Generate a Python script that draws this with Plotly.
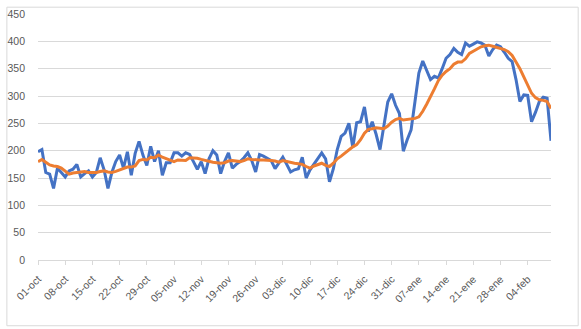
import pandas as pd
import plotly.graph_objects as go

# Daily series, 1 Oct 2020 .. 10 Feb 2021
start_date = "2020-10-01"

daily_values = [
    198, 202, 160, 157, 131, 168, 160, 152, 163, 166,
    175, 152, 158, 163, 152, 160, 187, 165, 131, 160,
    180, 192, 168, 198, 155, 195, 217, 192, 173, 208,
    180, 200, 155, 178, 178, 196, 196, 190, 196, 193,
    180, 166, 180, 158, 185, 200, 192, 158, 180, 196,
    168, 175, 180, 187, 196, 182, 161, 193, 190, 186,
    182, 167, 178, 188, 175, 161, 165, 167, 188, 150,
    165, 176, 186, 196, 185, 143, 167, 202, 226, 232,
    250, 206, 251, 253, 280, 235, 253, 230, 202, 250,
    289, 304, 283, 268, 199, 220, 238, 290, 342, 364,
    348, 330, 336, 333, 350, 369, 376, 387, 380, 376,
    397, 391, 395, 399, 397, 393, 373, 385, 393, 390,
    380, 369, 363, 330, 290, 302, 301, 253, 270, 290,
    298, 296, 218,
]

smoothed_values = [
    180, 184, 179, 174, 172, 171, 168, 162, 157, 159,
    160, 161, 162, 160, 160, 160, 162, 163, 161, 160,
    162, 165, 168, 170, 170, 172, 182, 184, 183, 188,
    187, 192, 188, 185, 182, 180, 183, 183, 182, 187,
    187, 186, 184, 182, 180, 179, 178, 177, 178, 181,
    182, 181, 180, 182, 185, 184, 183, 183, 183, 183,
    182, 181, 179, 182, 180, 178, 177, 176, 175, 171,
    168, 172, 175, 177, 173, 171, 177, 185, 190, 196,
    202, 207, 211, 220, 232, 239, 240, 242, 241, 240,
    245, 252, 257, 259, 256, 257, 258, 259, 262, 272,
    285, 298, 313, 328, 338, 345, 350, 358, 362, 362,
    368, 378, 382, 387, 390, 392, 393, 391, 389, 387,
    385, 381, 374, 362, 350, 335, 320, 305, 297, 293,
    292, 290, 277,
]

tick_labels = [
    "01-oct", "08-oct", "15-oct", "22-oct", "29-oct",
    "05-nov", "12-nov", "19-nov", "26-nov",
    "03-dic", "10-dic", "17-dic", "24-dic", "31-dic",
    "07-ene", "14-ene", "21-ene", "28-ene", "04-feb",
]

dates = pd.date_range(start_date, periods=len(daily_values), freq="D")
tick_dates = pd.date_range(start_date, periods=len(tick_labels), freq="7D")

BLUE = "#4472C4"
ORANGE = "#ED7D31"
GRID = "#D9D9D9"
TEXT = "#595959"
FONT = "Liberation Sans"

fig = go.Figure()
fig.add_trace(go.Scatter(
    x=dates, y=daily_values, mode="lines",
    line=dict(color=BLUE, width=3, shape="linear"),
))
fig.add_trace(go.Scatter(
    x=dates, y=smoothed_values, mode="lines",
    line=dict(color=ORANGE, width=3, shape="linear"),
))

L, R, T, B = 32, 30, 7.5, 69
W, H = 581, 329
plot_w = W - L - R
plot_h = H - T - B

fig.update_layout(
    width=W, height=H,
    margin=dict(l=L, r=R, t=T, b=B, pad=0),
    paper_bgcolor="white", plot_bgcolor="white",
    showlegend=False,
    font=dict(family=FONT, size=10.5, color=TEXT),
    xaxis=dict(
        type="date",
        range=[dates[0], dates[-1]],
        tickmode="array",
        tickvals=tick_dates,
        ticktext=tick_labels,
        tickangle=-45,
        showgrid=False,
        showline=True, linecolor=GRID, linewidth=1,
        ticks="outside", ticklen=4, tickcolor=GRID, tickwidth=1,
        ticklabelstandoff=4,
        tickfont=dict(family=FONT, size=10.5, color=TEXT),
        zeroline=False,
    ),
    yaxis=dict(
        range=[0, 450],
        tickmode="array",
        tickvals=list(range(0, 451, 50)),
        showgrid=True, gridcolor=GRID, gridwidth=1,
        showline=False, zeroline=False,
        ticks="", ticklabelstandoff=12,
        tickfont=dict(family=FONT, size=10.5, color=TEXT),
    ),
    shapes=[dict(
        type="rect", xref="paper", yref="paper",
        x0=(0.5 - L) / plot_w, x1=(578.5 - L) / plot_w,
        y0=-(327.5 - (H - B)) / plot_h, y1=(H - B - 0.5) / plot_h,
        line=dict(color=GRID, width=1), fillcolor="rgba(0,0,0,0)",
        layer="below",
    )],
)

fig.write_html("out.html")
